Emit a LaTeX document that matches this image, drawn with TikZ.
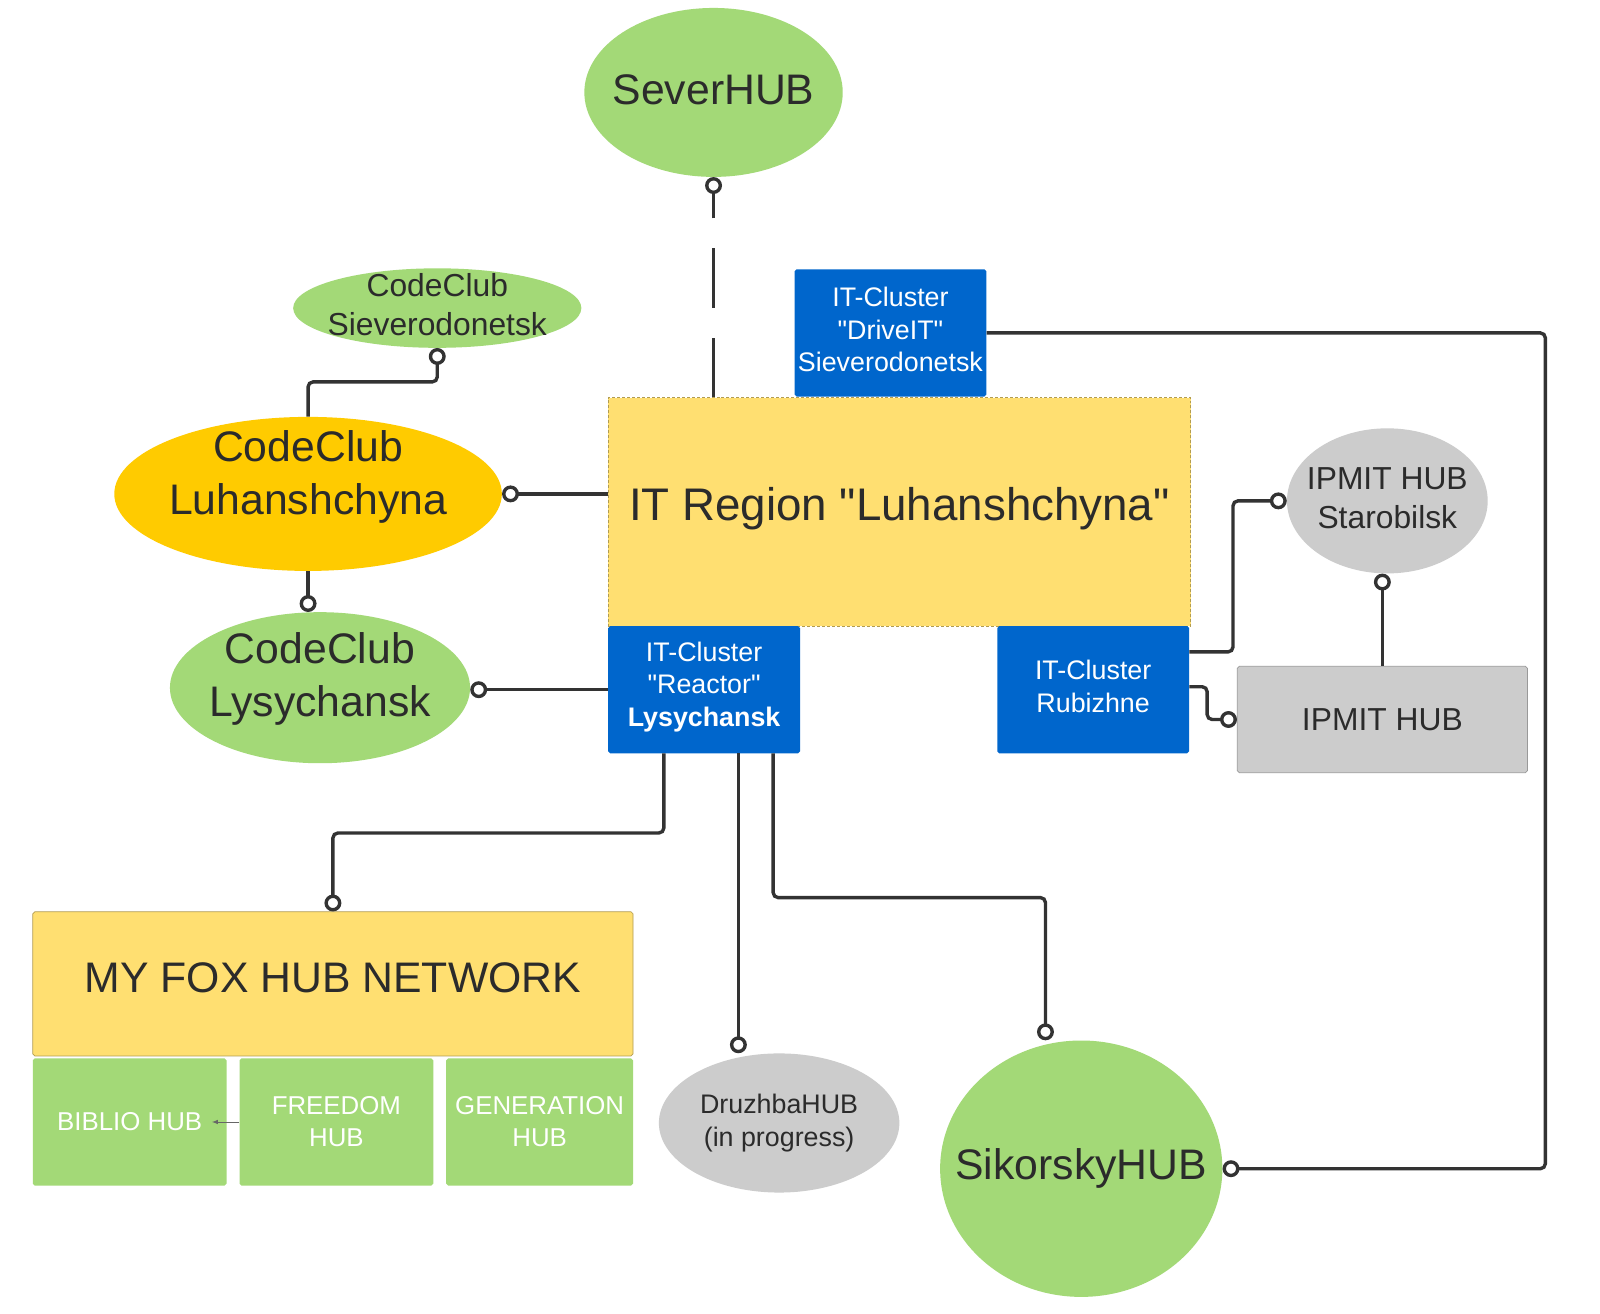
\documentclass[tikz,border=0pt]{standalone}
\usepackage{fontspec}
\setmainfont{Liberation Sans}
\usetikzlibrary{shapes.geometric,arrows.meta}
\definecolor{hubgreen}{HTML}{A3D977}
\definecolor{hubyellow}{HTML}{FFDF71}
\definecolor{cluborange}{HTML}{FFCB00}
\definecolor{clusterblue}{HTML}{0066CC}
\definecolor{hubgray}{HTML}{CCCCCC}
\definecolor{inkdark}{HTML}{2B2B2B}
\definecolor{linkdark}{HTML}{333333}
\newcommand\qq[1]{\textquotedbl#1\textquotedbl}
\begin{document}
\begin{tikzpicture}[x=1pt,y=-1pt,
  oval/.style={ellipse, inner sep=-40pt, text=inkdark, align=center},
  cluster/.style={rectangle, fill=clusterblue, rounded corners=2pt, text=white, align=center, inner sep=0pt, minimum width=193pt, minimum height=128pt, text depth=7pt, font=\fontsize{27}{33}\selectfont},
  hubbox/.style={rectangle, fill=hubgreen, rounded corners=2pt, text=white, align=center, inner sep=0pt, minimum height=128pt, font=\fontsize{26}{32}\selectfont},
  big/.style={font=\fontsize{43}{53}\selectfont},
  mid/.style={font=\fontsize{32}{39}\selectfont},
  link/.style={draw=linkdark, line width=3.4pt, rounded corners=5pt, -{Circle[open, fill=white, length=17pt, width=17pt]}}]
\path[use as bounding box, fill=white] (0,0) rectangle (1610,1322);
% centre
\node [rectangle, fill=hubyellow, draw=hubyellow!70!black, densely dashed, line width=0.7pt, minimum width=586pt, minimum height=230pt, text=inkdark, text depth=16pt, font=\fontsize{46}{55}\selectfont] (region) at (905,515) {IT Region \qq{Luhanshchyna}};
\node [cluster] (drive) at (896,335) {IT-Cluster\\\qq{DriveIT}\\Sieverodonetsk};
\node [cluster, text depth=11pt] (reactor) at (708.5,694) {IT-Cluster\\\qq{Reactor}\\\textbf{Lysychansk}};
\node [cluster] (rubizhne) at (1100,694) {IT-Cluster\\Rubizhne};
% hubs
\node [oval, big, fill=hubgreen, minimum width=260pt, minimum height=170pt, text depth=6pt] (sever) at (718,93) {SeverHUB};
\node [oval, mid, fill=hubgreen, minimum width=290pt, minimum height=80pt, text depth=8pt] (sievero) at (440,310) {CodeClub\\Sieverodonetsk};
\node [oval, big, fill=cluborange, minimum width=390pt, minimum height=155pt, text depth=43pt] (luhan) at (310,497) {CodeClub\\Luhanshchyna};
\node [oval, big, fill=hubgreen, minimum width=302pt, minimum height=152pt, text depth=26pt] (lysy) at (322,692) {CodeClub\\Lysychansk};
\node [oval, mid, fill=hubgray, minimum width=202pt, minimum height=146pt, text depth=6pt] (staro) at (1396,504) {IPMIT HUB\\Starobilsk};
\node [rectangle, mid, fill=hubgray, draw=hubgray!75!black, line width=0.7pt, rounded corners=2pt, minimum width=292pt, minimum height=107pt, text=inkdark] (ipmit) at (1391,724) {IPMIT HUB};
\node [oval, fill=hubgray, minimum width=242pt, minimum height=140pt, font=\fontsize{27}{33}\selectfont] (druzhba) at (784,1130) {DruzhbaHUB\\(in progress)};
\node [oval, big, fill=hubgreen, minimum width=284pt, minimum height=258pt] (sikorsky) at (1088,1176) {SikorskyHUB};
% my fox network
\node [rectangle, fill=hubyellow, draw=hubyellow!70!black, line width=0.7pt, rounded corners=2pt, minimum width=604pt, minimum height=145pt, text=inkdark, text depth=12pt, font=\fontsize{43}{52}\selectfont] (fox) at (335,990) {MY FOX HUB NETWORK};
\node [hubbox, minimum width=195pt] (biblio) at (130.5,1129) {BIBLIO HUB};
\node [hubbox, minimum width=195pt] (freedom) at (338.5,1129) {FREEDOM\\HUB};
\node [hubbox, minimum width=188pt] (generation) at (543,1129) {GENERATION\\HUB};
\coordinate (ring) at (1555,335);
% connectors
\draw [link, dash pattern=on 60pt off 30pt] (sever.south |- region.north) -- (sever.south);
\draw [link] (drive.east) -- (ring) |- (sikorsky.east);
\draw [link] (region.west |- luhan.east) -- (luhan.east);
\draw [link] (luhan.north) -- ++(0,-35) -| (sievero.south);
\draw [link] (luhan.south) -- (lysy.north -| luhan.south);
\draw [link] (reactor.west) -- (lysy.east |- reactor.west);
\draw [link] ([xshift=-40.5pt]reactor.south) -- ++(0,80) -| (fox.north);
\draw [link] ([xshift=34.5pt]reactor.south) -- ([xshift=34.5pt]reactor.south |- druzhba.north);
\draw [link] ([xshift=69.5pt]reactor.south) -- ++(0,145) -| ([xshift=-36pt]sikorsky.north);
\draw [link] ([yshift=38pt]rubizhne.east) -- ++(44,0) |- (staro.west);
\draw [link] ([yshift=3pt]rubizhne.east) -- ++(18,0) |- (ipmit.west);
\draw [link] (ipmit.north) -- (ipmit.north |- staro.south);
\draw [draw=black!60, line width=0.8pt, -{Latex[length=6pt, width=4.5pt]}] (freedom.west) -- ([xshift=-15pt]biblio.east);
\end{tikzpicture}
\end{document}
